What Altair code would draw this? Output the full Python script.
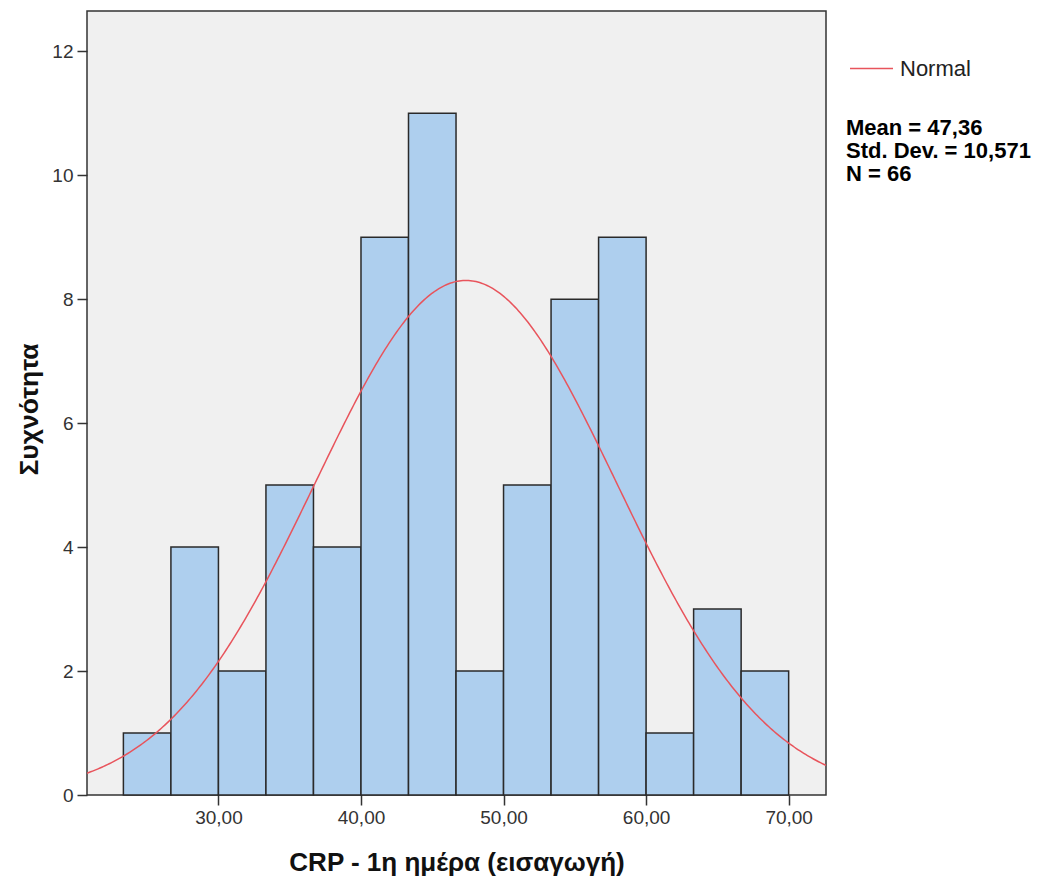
import altair as alt
import numpy as np
import pandas as pd

# Histogram of CRP on day 1 (admission)
bin_edges = [23.333, 26.667, 30.0, 33.333, 36.667, 40.0, 43.333, 46.667,
             50.0, 53.333, 56.667, 60.0, 63.333, 66.667, 70.0]
counts = [1, 4, 2, 5, 4, 9, 11, 2, 5, 8, 9, 1, 3, 2]

mean = 47.36
std_dev = 10.571
n_obs = 66

x_ticks = [30, 40, 50, 60, 70]
y_ticks = [0, 2, 4, 6, 8, 10, 12]
x_domain = [20.78, 72.62]
y_domain = [0, 12.65]

stats_text = ["Mean = 47,36", "Std. Dev. = 10,571", "N = 66"]

FONT = "Liberation Sans"
RED = "#e8545c"
BAR_FILL = "#aecfee"
FRAME = "#333333"

bars_df = pd.DataFrame({
    "start": bin_edges[:-1],
    "end": bin_edges[1:],
    "count": counts,
})

# Normal curve scaled to the histogram: N * bin width * density
bin_width = (bin_edges[-1] - bin_edges[0]) / len(counts)
xs = np.linspace(x_domain[0], x_domain[1], 400)
ys = n_obs * bin_width * np.exp(-0.5 * ((xs - mean) / std_dev) ** 2) / (std_dev * np.sqrt(2 * np.pi))
curve_df = pd.DataFrame({"x": xs, "y": ys, "series": "Normal"})

x_scale = alt.Scale(domain=x_domain, nice=False, zero=False)
y_scale = alt.Scale(domain=y_domain, nice=False)

x_axis = alt.Axis(
    values=x_ticks,
    labelExpr="replace(format(datum.value, '.2f'), '.', ',')",
    title="CRP - 1η ημέρα (εισαγωγή)",
    titleFont=FONT, titleFontSize=26, titleFontWeight="bold", titleColor="#111111",
    titleY=67, titleBaseline="middle",
    labelFont=FONT, labelFontSize=19, labelColor="#333333", labelPadding=3,
    tickSize=10, tickColor=FRAME, tickWidth=1.5,
    domain=False, grid=False,
)
y_axis = alt.Axis(
    values=y_ticks,
    format="d",
    title="Συχνότητα",
    titleFont=FONT, titleFontSize=26.5, titleFontWeight="bold", titleColor="#111111",
    titleX=-58, titleY=398, titleAngle=-90, titleBaseline="middle", titleAlign="center",
    labelFont=FONT, labelFontSize=19, labelColor="#333333", labelPadding=4,
    tickSize=10, tickColor=FRAME, tickWidth=1.5,
    domain=False, grid=False,
)

bars = alt.Chart(bars_df).mark_rect(
    fill=BAR_FILL, stroke="#2a2a2a", strokeWidth=1.5
).encode(
    x=alt.X("start:Q", scale=x_scale, axis=x_axis),
    x2="end:Q",
    y=alt.Y("count:Q", scale=y_scale, axis=y_axis),
    y2=alt.datum(0),
)

curve = alt.Chart(curve_df).mark_line(strokeWidth=1.5, clip=True).encode(
    x=alt.X("x:Q", scale=x_scale),
    y=alt.Y("y:Q", scale=y_scale),
    color=alt.Color(
        "series:N",
        scale=alt.Scale(domain=["Normal"], range=[RED]),
        legend=alt.Legend(
            title=None, orient="none", legendX=762, legendY=35,
            symbolType="stroke", symbolSize=1849, symbolStrokeWidth=1.5,
            labelFont=FONT, labelFontSize=22, labelColor="#222222",
            labelOffset=6, padding=0,
        ),
    ),
)

stats = alt.Chart(pd.DataFrame({"t": [stats_text]})).mark_text(
    align="left", baseline="alphabetic", font=FONT, fontSize=22,
    fontWeight="bold", color="#000000", lineHeight=23,
).encode(
    x=alt.value(759), y=alt.value(124), text="t",
)

chart = alt.layer(bars, curve, stats).properties(
    width=739, height=784,
    autosize=alt.AutoSizeParams(type="none"),
    padding={"left": 87, "top": 11, "right": 232, "bottom": 85},
    background="white",
).configure_view(
    fill="#f0f0f0", stroke=FRAME, strokeWidth=1.5,
)

chart.save("out.html", embed_options={"renderer": "svg", "actions": False})
